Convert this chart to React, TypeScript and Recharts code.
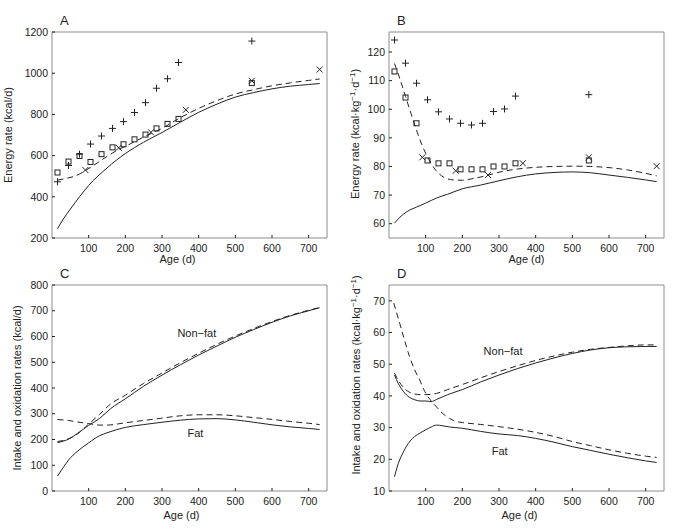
import { ComposedChart, Line, Scatter, XAxis, YAxis, ReferenceDot } from "recharts";

const FONT = "'Liberation Sans', Arial, Helvetica, sans-serif";
const INK = "#222";
const FRAME = "#8c8c8c";

const xTicks = [100, 200, 300, 400, 500, 600, 700];

// measured points (mid-month) and the 3-monthly crosses
const markerDays = [15, 45, 75, 105, 135, 165, 195, 225, 255, 285, 315, 345, 545];
const crossDays = [91, 182, 270, 365, 545, 730];

// panel A (kcal/d)
const plusA = [473, 552, 607, 656, 695, 732, 765, 809, 857, 927, 973, 1052, 1156];
const squareA = [518, 571, 598, 569, 607, 640, 655, 679, 702, 732, 754, 778, 952];
const crossA = [530, 638, 713, 822, 963, 1018];
const solidDaysA = [15, 30, 50, 75, 100, 150, 200, 250, 300, 350, 400, 450, 500, 550, 600, 650, 700, 730];
const solidA = [245, 290, 340, 400, 455, 540, 610, 665, 712, 762, 810, 850, 884, 906, 924, 937, 945, 950];
const dashDaysA = [15, 40, 65, 90, 120, 150, 180, 200, 250, 300, 350, 400, 450, 500, 550, 600, 650, 700, 730];
const dashA = [481, 490, 502, 526, 560, 596, 628, 645, 690, 732, 784, 829, 867, 899, 920, 939, 953, 965, 972];

// panel B (kcal/kg/d)
const plusB = [124.2, 116.1, 109.1, 103.3, 99.1, 96.6, 95.1, 94.5, 95.1, 99.2, 100.1, 104.6, 105.1];
const squareB = [113.2, 104.1, 95.1, 82.1, 81.1, 81.1, 79, 79, 79, 80, 80, 81.1, 82.1];
const crossB = [83.2, 78.5, 77, 81.1, 83.2, 80.1];
const solidDaysB = [15, 30, 50, 75, 100, 130, 160, 200, 250, 300, 350, 400, 450, 500, 550, 600, 650, 700, 730];
const solidB = [60.2, 62.3, 64.3, 65.8, 67.2, 69, 70.3, 72.2, 73.5, 75, 76.4, 77.4, 77.9, 78.1, 77.8, 77, 76.2, 75.3, 74.7];
const dashDaysB = [15, 30, 45, 60, 75, 90, 100, 115, 130, 150, 175, 200, 230, 260, 300, 350, 400, 450, 500, 550, 600, 650, 700, 730];
const dashB = [116, 110.5, 104.5, 98.5, 92.7, 87.5, 84.6, 81, 78.3, 76.2, 75.3, 75.2, 75.8, 76.6, 78, 79.1, 79.7, 80, 80.1, 80, 79.6, 78.8, 77.6, 76.7];

// panel C (kcal/d)
const lineDaysC = [15, 40, 70, 100, 130, 160, 200, 250, 300, 350, 400, 450, 500, 550, 600, 650, 700, 730];
const nonFatSolidC = [188, 198, 224, 255, 282, 320, 358, 407, 450, 490, 528, 563, 597, 627, 655, 680, 700, 712];
const nonFatDashC = [192, 200, 222, 260, 298, 338, 372, 418, 458, 498, 535, 570, 602, 631, 658, 682, 702, 712];
const fatDaysC = [15, 30, 45, 70, 100, 130, 150, 200, 250, 300, 350, 400, 450, 500, 550, 600, 650, 700, 730];
const fatSolidC = [58, 90, 120, 155, 187, 215, 226, 247, 258, 267, 275, 280, 281, 276, 267, 257, 249, 243, 239];
const fatDashC = [278, 276, 274, 268, 262, 256, 256, 265, 274, 283, 292, 296, 296, 292, 285, 278, 270, 263, 258];

// panel D (kcal/kg/d)
const nfDaysD = [15, 25, 40, 55, 70, 85, 100, 115, 130, 160, 200, 250, 300, 350, 400, 450, 500, 550, 600, 650, 700, 730];
const nonFatSolidD = [46.6, 44, 41.3, 39.6, 38.8, 38.4, 38.4, 38.2, 38.9, 40.4, 42, 44.4, 46.6, 48.6, 50.4, 52, 53.4, 54.5, 55.2, 55.5, 55.6, 55.6];
const nonFatDashD = [47.2, 45, 42.6, 41.2, 40.6, 40.4, 40.4, 40.5, 40.8, 42, 43.6, 45.7, 47.7, 49.5, 51.2, 52.6, 53.8, 54.7, 55.3, 55.8, 56.1, 56.1];
const fatDashDaysD = [13, 20, 29, 40, 56, 70, 84, 95, 106, 118, 129, 145, 165, 185, 200, 250, 300, 350, 400, 450, 500, 550, 600, 650, 700, 730];
const fatDashD = [69.3, 66.5, 63, 58.5, 52.4, 48.2, 45, 42, 39.8, 38, 36.6, 34.6, 32.9, 31.9, 31.6, 31, 30.3, 29.5, 28.5, 27.2, 25.6, 24.3, 23, 21.9, 21, 20.6];
const fatSolidDaysD = [15, 22, 29, 38, 47, 58, 70, 85, 100, 115, 130, 145, 165, 200, 250, 300, 350, 400, 450, 500, 550, 600, 650, 700, 730];
const fatSolidD = [14.5, 17.5, 19.8, 22, 24, 25.8, 27.2, 28.3, 29.3, 30.2, 30.8, 30.6, 30.2, 29.8, 28.8, 28, 27.5, 26.6, 25.4, 24, 22.8, 21.6, 20.5, 19.5, 19];

const pts = (days: number[], vals: number[]) => days.map((d, i) => ({ day: d, v: vals[i] }));

const Plus = (p: any) => (
  <path d={`M${p.cx - 3.5},${p.cy}h7M${p.cx},${p.cy - 3.5}v7`} stroke={INK} strokeWidth={1} fill="none" />
);
const Square = (p: any) => (
  <rect x={p.cx - 2.5} y={p.cy - 2.5} width={5} height={5} stroke={INK} strokeWidth={1} fill="none" />
);
const Cross = (p: any) => (
  <path d={`M${p.cx - 3},${p.cy - 3}l6,6M${p.cx - 3},${p.cy + 3}l6,-6`} stroke={INK} strokeWidth={1} fill="none" />
);

const solid = (key: string, data: any[]) => (
  <Line key={key} data={data} dataKey="v" type="monotone" stroke={INK} strokeWidth={1} dot={false} activeDot={false} isAnimationActive={false} />
);
const dashed = (key: string, data: any[]) => (
  <Line key={key} data={data} dataKey="v" type="monotone" stroke={INK} strokeWidth={1} strokeDasharray="6 4" dot={false} activeDot={false} isAnimationActive={false} />
);
const markers = (key: string, data: any[], shape: any) => (
  <Scatter key={key} data={data} dataKey="v" shape={shape} isAnimationActive={false} />
);
const tag = (key: string, x: number, y: number, text: string) => (
  <ReferenceDot key={key} x={x} y={y} r={0} fill="none" stroke="none"
    label={{ value: text, position: "center", fontSize: 11, fill: INK, fontFamily: FONT }} />
);

const perKg = (head: string) => (
  <>
    {head}(kcal·kg
    <tspan fontSize={8} dy={-4}>−1</tspan>
    <tspan dy={4}>·d</tspan>
    <tspan fontSize={8} dy={-4}>−1</tspan>
    <tspan dy={4}>)</tspan>
  </>
);

function Panel(props: any) {
  const { left, top, width, height, margin, letter, yDomain, yTicks, yTitle, titleDist, titleShift, ageDy, ageShift, children } = props;
  const tickStyle = { fontSize: 10.5, fill: INK, fontFamily: FONT };
  return (
    <div style={{ position: "absolute", left, top }}>
      <ComposedChart width={width} height={height} margin={margin} style={{ fontFamily: FONT }}>
        <XAxis dataKey="day" type="number" domain={[0, 750]} ticks={xTicks} interval={0} height={1}
          axisLine={{ stroke: FRAME }} tickLine={{ stroke: INK }} tickSize={-3} tickMargin={10} tick={tickStyle}
          label={{
            content: (p: any) => {
              const vb = p.viewBox;
              return (
                <text x={vb.x + vb.width / 2 + ageShift} y={vb.y + ageDy} textAnchor="middle" fontSize={11} fill={INK} fontFamily={FONT}>
                  Age (d)
                </text>
              );
            },
          }} />
        <XAxis xAxisId="t" orientation="top" type="number" domain={[0, 750]} ticks={xTicks} interval={0} height={1}
          axisLine={{ stroke: FRAME }} tickLine={{ stroke: INK }} tickSize={-3} tick={false}
          label={{
            content: (p: any) => {
              const vb = p.viewBox;
              return (
                <text x={vb.x + 8} y={vb.y + vb.height - 7} fontSize={13} fill={INK} fontFamily={FONT}>{letter}</text>
              );
            },
          }} />
        <YAxis type="number" domain={yDomain} ticks={yTicks} interval={0} width={1}
          axisLine={{ stroke: FRAME }} tickLine={{ stroke: INK }} tickSize={-3} tickMargin={7} tick={tickStyle}
          label={{
            content: (p: any) => {
              const vb = p.viewBox;
              const bx = vb.x + vb.width - titleDist;
              const cy = vb.y + vb.height / 2 + titleShift;
              return (
                <text x={bx} y={cy} transform={`rotate(-90, ${bx}, ${cy})`} textAnchor="middle" fontSize={11} fill={INK} fontFamily={FONT}>
                  {yTitle}
                </text>
              );
            },
          }} />
        <YAxis yAxisId="r" orientation="right" type="number" domain={yDomain} ticks={yTicks} interval={0} width={1}
          axisLine={{ stroke: FRAME }} tickLine={{ stroke: INK }} tickSize={-3} tick={false} />
        {children}
      </ComposedChart>
    </div>
  );
}

export default function App() {
  return (
    <div style={{ position: "absolute", left: 0, top: 0, width: 683, height: 530, background: "#fff", fontFamily: FONT }}>
      <Panel left={0} top={0} width={341} height={265} margin={{ top: 31, right: 13, bottom: 26, left: 51 }}
        letter="A" yDomain={[200, 1200]} yTicks={[200, 400, 600, 800, 1000, 1200]}
        yTitle="Energy rate (kcal/d)" titleDist={40} titleShift={0} ageDy={25} ageShift={-12}>
        {[
          solid("s", pts(solidDaysA, solidA)),
          dashed("d", pts(dashDaysA, dashA)),
          markers("p", pts(markerDays, plusA), Plus),
          markers("q", pts(markerDays, squareA), Square),
          markers("x", pts(crossDays, crossA), Cross),
        ]}
      </Panel>
      <Panel left={341} top={0} width={342} height={265} margin={{ top: 31, right: 18, bottom: 26, left: 47 }}
        letter="B" yDomain={[55, 127]} yTicks={[60, 70, 80, 90, 100, 110, 120]}
        yTitle={perKg("Energy rate ")} titleDist={29.6} titleShift={-1} ageDy={25} ageShift={0}>
        {[
          solid("s", pts(solidDaysB, solidB)),
          dashed("d", pts(dashDaysB, dashB)),
          markers("p", pts(markerDays, plusB), Plus),
          markers("q", pts(markerDays, squareB), Square),
          markers("x", pts(crossDays, crossB), Cross),
        ]}
      </Panel>
      <Panel left={0} top={265} width={341} height={265} margin={{ top: 19, right: 13, bottom: 38, left: 51 }}
        letter="C" yDomain={[0, 800]} yTicks={[0, 100, 200, 300, 400, 500, 600, 700, 800]}
        yTitle="Intake and oxidation rates (kcal/d)" titleDist={31.4} titleShift={0} ageDy={28} ageShift={-8}>
        {[
          solid("ns", pts(lineDaysC, nonFatSolidC)),
          dashed("nd", pts(lineDaysC, nonFatDashC)),
          solid("fs", pts(fatDaysC, fatSolidC)),
          dashed("fd", pts(fatDaysC, fatDashC)),
          tag("t1", 395, 615, "Non−fat"),
          tag("t2", 391, 224, "Fat"),
        ]}
      </Panel>
      <Panel left={341} top={265} width={342} height={265} margin={{ top: 19, right: 18, bottom: 38, left: 47 }}
        letter="D" yDomain={[10, 75]} yTicks={[10, 20, 30, 40, 50, 60, 70]}
        yTitle={perKg("Intake and oxidation rates ")} titleDist={28.6} titleShift={-13} ageDy={28} ageShift={-7}>
        {[
          solid("ns", pts(nfDaysD, nonFatSolidD)),
          dashed("nd", pts(nfDaysD, nonFatDashD)),
          dashed("fd", pts(fatDashDaysD, fatDashD)),
          solid("fs", pts(fatSolidDaysD, fatSolidD)),
          tag("t1", 311, 54.3, "Non−fat"),
          tag("t2", 302, 22.7, "Fat"),
        ]}
      </Panel>
    </div>
  );
}
